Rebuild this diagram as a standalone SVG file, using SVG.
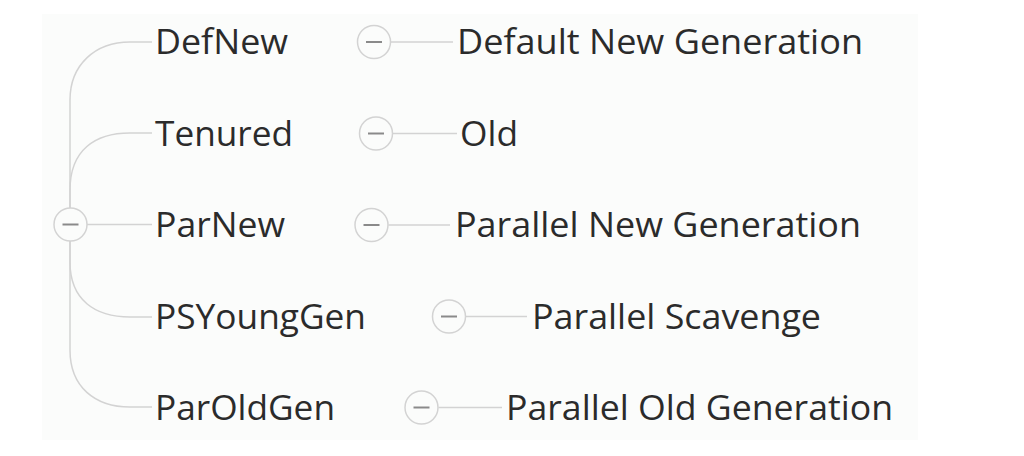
<svg xmlns="http://www.w3.org/2000/svg" width="1024" height="456" viewBox="0 0 1024 456">
<style>
.t{font-family:"Open Sans","Noto Sans","Liberation Sans",sans-serif;font-size:35px;fill:#2b2b2b}
.c{fill:#fbfcfb;stroke:#d3d3d3;stroke-width:1.5}
.m{stroke:#8a8a8a;stroke-width:2;fill:none}
.l{stroke:#d3d3d3;stroke-width:1.5;fill:none}
</style>
<rect x="0" y="0" width="1024" height="456" fill="#ffffff"/>
<rect x="42" y="14" width="876" height="426" fill="#fbfcfb"/>
<g id="connectors">
<path class="l" d="M70 208 V100 C70 65 95 42 130 42 H152"/>
<path class="l" d="M70 208 V190 C70 150 95 133 130 133 H152"/>
<path class="l" d="M87 224.5 H152"/>
<path class="l" d="M70 241 V262 C70 300 95 317 130 317 H152"/>
<path class="l" d="M70 241 V350 C70 387 95 407 130 407 H152"/>
<path class="l" d="M391 42 H453"/>
<path class="l" d="M393 133.5 H457"/>
<path class="l" d="M388.5 225 H450"/>
<path class="l" d="M466 316.5 H527"/>
<path class="l" d="M438.5 407.5 H502"/>
</g>
<g id="root">
<circle class="c" cx="70.5" cy="224.5" r="16.5"/>
<path class="m" d="M62.5 224.5 H78.5"/>
</g>
<g id="defnew">
<text class="t" x="155" y="54" textLength="133" lengthAdjust="spacingAndGlyphs">DefNew</text>
<circle class="c" cx="374" cy="42" r="16.5"/>
<path class="m" d="M366 42 H382"/>
</g>
<g id="defnew-desc"><text class="t" x="457" y="54" textLength="406" lengthAdjust="spacingAndGlyphs">Default New Generation</text></g>
<g id="tenured">
<text class="t" x="155" y="145.5" textLength="138" lengthAdjust="spacingAndGlyphs">Tenured</text>
<circle class="c" cx="376" cy="133.5" r="16.5"/>
<path class="m" d="M368 133.5 H384"/>
</g>
<g id="tenured-desc"><text class="t" x="460" y="145.5" textLength="58" lengthAdjust="spacingAndGlyphs">Old</text></g>
<g id="parnew">
<text class="t" x="155" y="237" textLength="130" lengthAdjust="spacingAndGlyphs">ParNew</text>
<circle class="c" cx="371.5" cy="225" r="16.5"/>
<path class="m" d="M363.5 225 H379.5"/>
</g>
<g id="parnew-desc"><text class="t" x="455" y="237" textLength="406" lengthAdjust="spacingAndGlyphs">Parallel New Generation</text></g>
<g id="psyounggen">
<text class="t" x="155" y="328.5" textLength="211" lengthAdjust="spacingAndGlyphs">PSYoungGen</text>
<circle class="c" cx="449" cy="316.5" r="16.5"/>
<path class="m" d="M441 316.5 H457"/>
</g>
<g id="psyounggen-desc"><text class="t" x="532" y="328.5" textLength="289" lengthAdjust="spacingAndGlyphs">Parallel Scavenge</text></g>
<g id="paroldgen">
<text class="t" x="155" y="420" textLength="180" lengthAdjust="spacingAndGlyphs">ParOldGen</text>
<circle class="c" cx="421.5" cy="407.5" r="16.5"/>
<path class="m" d="M413.5 407.5 H429.5"/>
</g>
<g id="paroldgen-desc"><text class="t" x="506" y="420" textLength="387" lengthAdjust="spacingAndGlyphs">Parallel Old Generation</text></g>
</svg>
